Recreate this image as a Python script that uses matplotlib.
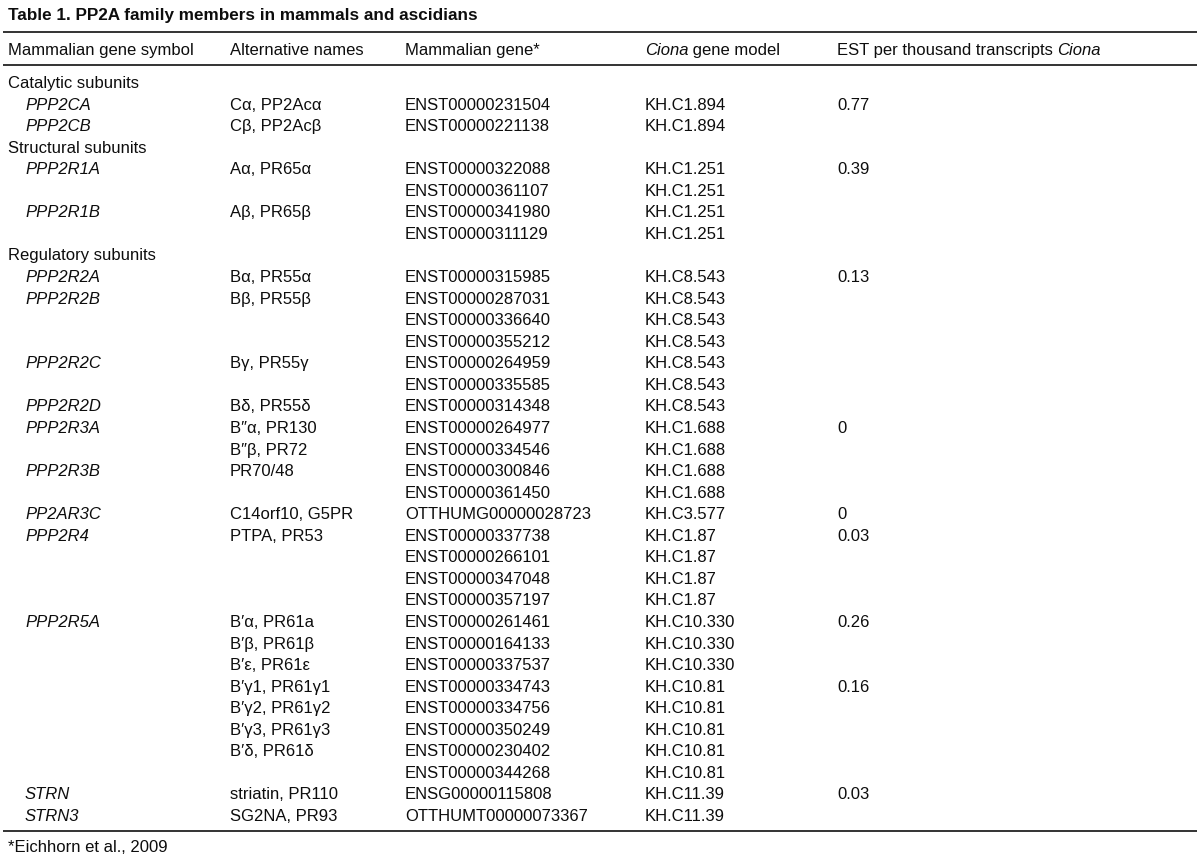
import matplotlib
matplotlib.use("Agg")
import matplotlib.pyplot as plt

plt.rcParams['font.family'] = ['Liberation Sans', 'DejaVu Sans']

title = "Table 1. PP2A family members in mammals and ascidians"
footnote = "*Eichhorn et al., 2009"

# header pieces: list of (text, italic)
headers = [
    [("Mammalian gene symbol", False)],
    [("Alternative names", False)],
    [("Mammalian gene*", False)],
    [("Ciona", True), (" gene model", False)],
    [("EST per thousand transcripts ", False), ("Ciona", True)],
]

groups = {0: "Catalytic subunits", 3: "Structural subunits", 8: "Regulatory subunits"}

gene_symbol = ["", "PPP2CA", "PPP2CB", "", "PPP2R1A", "", "PPP2R1B", "", "",
               "PPP2R2A", "PPP2R2B", "", "", "PPP2R2C", "", "PPP2R2D", "PPP2R3A", "",
               "PPP2R3B", "", "PP2AR3C", "PPP2R4", "", "", "", "PPP2R5A", "", "", "",
               "", "", "", "", "STRN", "STRN3"]
alt_names = ["", "Cα, PP2Acα", "Cβ, PP2Acβ", "", "Aα, PR65α", "", "Aβ, PR65β", "", "",
             "Bα, PR55α", "Bβ, PR55β", "", "", "Bγ, PR55γ", "", "Bδ, PR55δ", "B″α, PR130",
             "B″β, PR72", "PR70/48", "", "C14orf10, G5PR", "PTPA, PR53", "", "", "",
             "B′α, PR61a", "B′β, PR61β", "B′ε, PR61ε", "B′γ1, PR61γ1", "B′γ2, PR61γ2",
             "B′γ3, PR61γ3", "B′δ, PR61δ", "", "striatin, PR110", "SG2NA, PR93"]
mammal_gene = ["", "ENST00000231504", "ENST00000221138", "", "ENST00000322088",
               "ENST00000361107", "ENST00000341980", "ENST00000311129", "",
               "ENST00000315985", "ENST00000287031", "ENST00000336640", "ENST00000355212",
               "ENST00000264959", "ENST00000335585", "ENST00000314348", "ENST00000264977",
               "ENST00000334546", "ENST00000300846", "ENST00000361450", "OTTHUMG00000028723",
               "ENST00000337738", "ENST00000266101", "ENST00000347048", "ENST00000357197",
               "ENST00000261461", "ENST00000164133", "ENST00000337537", "ENST00000334743",
               "ENST00000334756", "ENST00000350249", "ENST00000230402", "ENST00000344268",
               "ENSG00000115808", "OTTHUMT00000073367"]
ciona_model = ["", "KH.C1.894", "KH.C1.894", "", "KH.C1.251", "KH.C1.251", "KH.C1.251",
               "KH.C1.251", "", "KH.C8.543", "KH.C8.543", "KH.C8.543", "KH.C8.543",
               "KH.C8.543", "KH.C8.543", "KH.C8.543", "KH.C1.688", "KH.C1.688", "KH.C1.688",
               "KH.C1.688", "KH.C3.577", "KH.C1.87", "KH.C1.87", "KH.C1.87", "KH.C1.87",
               "KH.C10.330", "KH.C10.330", "KH.C10.330", "KH.C10.81", "KH.C10.81",
               "KH.C10.81", "KH.C10.81", "KH.C10.81", "KH.C11.39", "KH.C11.39"]
est_values = ["", "0.77", "", "", "0.39", "", "", "", "", "0.13", "", "", "", "", "", "",
              "0", "", "", "", "0", "0.03", "", "", "", "0.26", "", "", "0.16", "", "",
              "", "", "0.03", ""]

W, H = 1200, 861
fig = plt.figure(figsize=(W / 100, H / 100), dpi=100)
ax = fig.add_axes([0, 0, 1, 1])
ax.set_xlim(0, W)
ax.set_ylim(H, 0)
ax.axis('off')

FS = 12
TXT = '#0d0d0d'
col_x = [8, 230, 405, 645, 837]
indent_x = 25
row0_y = 82
pitch = 21.56
BASE = 6  # offset from visual centre line to text baseline (px)

fig.canvas.draw()
renderer = fig.canvas.get_renderer()


def put(x, y, s, **kw):
    return ax.text(x, y + BASE, s, fontsize=kw.pop('fontsize', FS), color=TXT,
                   va='baseline', ha='left', **kw)


def draw_pieces(x, y, pieces):
    cur = x
    for txt, it in pieces:
        t = put(cur, y, txt, style='italic' if it else 'normal')
        cur += t.get_window_extent(renderer=renderer).width


# title
put(8, 14, title, fontsize=12.3, fontweight='bold')

# rules
for yy in (32, 65, 831):
    ax.plot([3, 1197], [yy, yy], color='#333333', lw=1.4, solid_capstyle='butt')

# header
for cx, pieces in zip(col_x, headers):
    draw_pieces(cx, 49, pieces)

# body rows
for i in range(len(gene_symbol)):
    y = row0_y + i * pitch
    if i in groups:
        put(col_x[0], y, groups[i])
        continue
    if gene_symbol[i]:
        put(indent_x, y, gene_symbol[i], style='italic')
    for cx, col in zip(col_x[1:], [alt_names, mammal_gene, ciona_model, est_values]):
        if col[i]:
            put(cx, y, col[i])

put(8, 846, footnote)

fig.savefig("out.png", dpi=100)
